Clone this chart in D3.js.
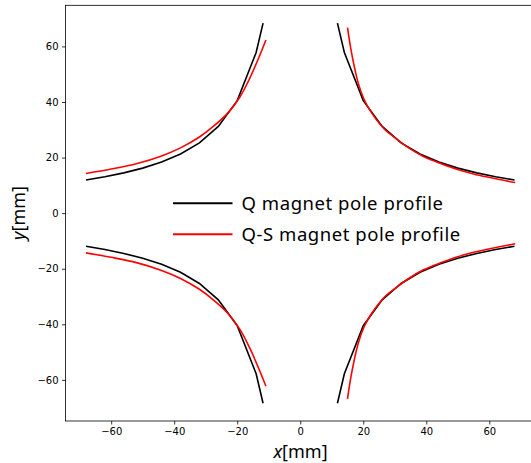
<!DOCTYPE html>
<html>
<head>
<meta charset="utf-8">
<script src="https://cdn.jsdelivr.net/npm/d3@7"></script>
<style>
  body { margin: 0; background: #fff; }
  svg { display: block; }
</style>
</head>
<body>
<div id="chart"></div>
<script>
// pole profiles, [x, y] in mm, one list per quadrant
const qTopLeft = [[-68, 11.9], [-62, 13.1], [-56, 14.5], [-50, 16.2], [-44, 18.4], [-38, 21.3],
  [-32, 25.3], [-26, 31.2], [-20, 40.5], [-14, 57.8], [-11.8, 68.4]];
const qTopRight = [[11.8, 68.4], [14, 57.8], [20, 40.5], [26, 31.2], [32, 25.3], [38, 21.3],
  [44, 18.4], [50, 16.2], [56, 14.5], [62, 13.1], [68, 11.9]];
const qBottomLeft = [[-68, -11.9], [-62, -13.1], [-56, -14.5], [-50, -16.2], [-44, -18.4], [-38, -21.3],
  [-32, -25.3], [-26, -31.2], [-20, -40.5], [-14, -57.8], [-11.8, -68.4]];
const qBottomRight = [[11.8, -68.4], [14, -57.8], [20, -40.5], [26, -31.2], [32, -25.3], [38, -21.3],
  [44, -18.4], [50, -16.2], [56, -14.5], [62, -13.1], [68, -11.9]];

const qsTopLeft = [[-68, 14.3], [-60, 15.9], [-52, 17.8], [-44, 20.6], [-38, 23.5], [-32, 27.4],
  [-27.6, 31.2], [-23, 36], [-19.1, 41.9], [-16, 48.6], [-12.8, 56.9], [-10.9, 62.3]];
const qsTopRight = [[15, 66.8], [16.3, 57.6], [18.4, 46.8], [20.3, 40.8], [22.7, 36], [26.9, 30],
  [30, 27.2], [34.3, 23.6], [39.1, 20.4], [45, 17.7], [49.7, 15.8], [55, 14.1], [60.2, 12.8], [68.2, 11.0]];
const qsBottomLeft = [[-68, -14.3], [-60, -15.9], [-52, -17.8], [-44, -20.6], [-38, -23.5], [-32, -27.4],
  [-27.6, -31.2], [-23, -36], [-19.1, -41.9], [-16, -48.6], [-12.8, -56.9], [-10.9, -62.3]];
const qsBottomRight = [[15, -66.8], [16.3, -57.6], [18.4, -46.8], [20.3, -40.8], [22.7, -36], [26.9, -30],
  [30, -27.2], [34.3, -23.6], [39.1, -20.4], [45, -17.7], [49.7, -15.8], [55, -14.1], [60.2, -12.8], [68.2, -11.0]];

const xTicks = [-60, -40, -20, 0, 20, 40, 60];
const yTicks = [-60, -40, -20, 0, 20, 40, 60];
const legendLabels = ['Q magnet pole profile', 'Q-S magnet pole profile'];

const width = 531, height = 463;
const plot = { left: 65.5, right: 535, top: 5.3, bottom: 421 };

var svg = d3.select('#chart').append('svg')
  .attr('width', width)
  .attr('height', height);

var x = d3.scaleLinear().domain([-74.5, 74.5]).range([plot.left, plot.right]);
var y = d3.scaleLinear().domain([-74.8, 74.8]).range([plot.bottom, plot.top]);

var fmt = d => (d < 0 ? '\u2212' + Math.abs(d) : '' + d);

var xAxis = svg.append('g')
  .attr('transform', 'translate(0,' + plot.bottom + ')')
  .call(d3.axisBottom(x).tickValues(xTicks).tickFormat(fmt).tickSize(3.5).tickPadding(3.5));
var yAxis = svg.append('g')
  .attr('transform', 'translate(' + plot.left + ',0)')
  .call(d3.axisLeft(y).tickValues(yTicks).tickFormat(fmt).tickSize(3.5).tickPadding(3.5));

[xAxis, yAxis].forEach(function(a) {
  a.select('.domain').remove();
  a.selectAll('line').attr('stroke', '#000').attr('stroke-width', 0.8);
  a.selectAll('text')
    .attr('fill', '#000')
    .style('font-family', 'DejaVu Sans')
    .style('font-size', '10px');
});

// frame (right side falls just outside the picture)
svg.append('rect')
  .attr('x', plot.left)
  .attr('y', plot.top)
  .attr('width', plot.right - plot.left)
  .attr('height', plot.bottom - plot.top)
  .attr('fill', 'none')
  .attr('stroke', '#000')
  .attr('stroke-width', 0.8);

var straight = d3.line().x(d => x(d[0])).y(d => y(d[1]));
var smooth = d3.line().x(d => x(d[0])).y(d => y(d[1])).curve(d3.curveCatmullRom.alpha(0.5));

[qTopLeft, qTopRight, qBottomLeft, qBottomRight].forEach(function(pts) {
  svg.append('path')
    .attr('d', straight(pts))
    .attr('fill', 'none')
    .attr('stroke', '#000')
    .attr('stroke-width', 1.6);
});

[qsTopLeft, qsTopRight, qsBottomLeft, qsBottomRight].forEach(function(pts) {
  svg.append('path')
    .attr('d', smooth(pts))
    .attr('fill', 'none')
    .attr('stroke', '#ff0000')
    .attr('stroke-width', 1.6);
});

// legend, no frame
var legend = svg.append('g');
var legendColors = ['#000', '#ff0000'];
legendLabels.forEach(function(label, i) {
  var ly = 203.3 + i * 31;
  legend.append('line')
    .attr('x1', 173).attr('x2', 232.5)
    .attr('y1', ly).attr('y2', ly)
    .attr('stroke', legendColors[i])
    .attr('stroke-width', 2);
  legend.append('text')
    .attr('x', 241.5)
    .attr('y', ly + 6.7)
    .style('font-family', 'Noto Sans')
    .style('font-size', '18.5px')
    .style('letter-spacing', '0.55px')
    .attr('fill', '#000')
    .text(label);
});

// axis labels
var xLabel = svg.append('text')
  .attr('x', 300.5)
  .attr('y', 458)
  .attr('text-anchor', 'middle')
  .style('font-family', 'Noto Sans')
  .style('font-size', '18px');
xLabel.append('tspan').style('font-style', 'italic').text('x');
xLabel.append('tspan').text('[mm]');

var yLabel = svg.append('text')
  .attr('transform', 'translate(25,213) rotate(-90)')
  .attr('text-anchor', 'middle')
  .style('font-family', 'Noto Sans')
  .style('font-size', '18px');
yLabel.append('tspan').style('font-style', 'italic').text('y');
yLabel.append('tspan').text('[mm]');
</script>
</body>
</html>
